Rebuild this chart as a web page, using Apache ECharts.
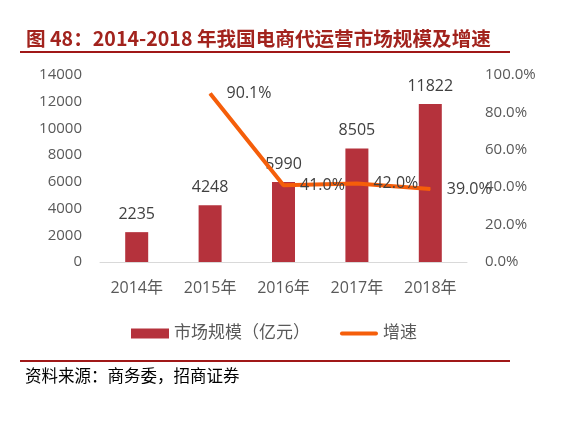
<!DOCTYPE html>
<html><head><meta charset="utf-8">
<script src="https://cdn.jsdelivr.net/npm/echarts@6/dist/echarts.min.js"></script>
<style>html,body{margin:0;padding:0;background:#fff}#c{width:571px;height:421px}</style>
</head><body><div id="c"></div>
<script>
const categories = ['2014年','2015年','2016年','2017年','2018年'];
const marketSize = [2235, 4248, 5990, 8505, 11822];
const growth = [null, 0.901, 0.410, 0.420, 0.390];
const leftTicks = {min: 0, max: 14000, interval: 2000};
const rightTicks = {min: 0, max: 1, interval: 0.2};

const chart = echarts.init(document.getElementById('c'), null, {renderer: 'canvas'});
const font = '"Open Sans","Noto Sans CJK SC",sans-serif';
chart.setOption({
  animation: false,
  title: [
    {text: '图 48：2014-2018 年我国电商代运营市场规模及增速', left: 21, top: 24,
     textStyle: {color: '#A2231D', fontSize: 19.6, fontWeight: 'bold', fontFamily: '"Noto Sans CJK SC",sans-serif'}},
    {text: '资料来源：商务委，招商证券', left: 20, top: 362,
     textStyle: {color: '#000', fontSize: 16.5, fontWeight: 'normal', fontFamily: '"Noto Sans CJK SC",sans-serif'}}
  ],
  graphic: [
    {type: 'rect', shape: {x: 20, y: 51, width: 490, height: 2}, style: {fill: '#A01818'}},
    {type: 'rect', shape: {x: 20, y: 360, width: 490, height: 2}, style: {fill: '#A01818'}}
  ],
  legend: {
    top: 320, left: 126, itemGap: 30, itemWidth: 38, itemHeight: 10,
    textStyle: {color: '#595959', fontSize: 17, fontFamily: font},
    data: [{name: '市场规模（亿元）', icon: 'rect'}, {name: '增速', icon: 'path://M2,3 L38,3 A2,2 0 0 1 38,7 L2,7 A2,2 0 0 1 2,3 Z'}]
  },
  grid: {left: 100, right: 104, top: 75, bottom: 159},
  xAxis: {
    type: 'category', data: categories,
    axisLine: {lineStyle: {color: '#D9D9D9', width: 1}},
    axisTick: {show: false},
    axisLabel: {color: '#595959', fontSize: 16, fontFamily: font, margin: 18}
  },
  yAxis: [
    {type: 'value', min: leftTicks.min, max: leftTicks.max, interval: leftTicks.interval,
     splitLine: {show: false}, axisLine: {show: false}, axisTick: {show: false},
     axisLabel: {color: '#595959', fontSize: 15, fontFamily: font, margin: 18, formatter: v => String(v)}},
    {type: 'value', min: rightTicks.min, max: rightTicks.max, interval: rightTicks.interval,
     splitLine: {show: false}, axisLine: {show: false}, axisTick: {show: false},
     axisLabel: {color: '#595959', fontSize: 15, fontFamily: font, margin: 18,
       formatter: v => (v * 100).toFixed(1) + '%'}}
  ],
  series: [
    {name: '市场规模（亿元）', type: 'bar', data: marketSize, barWidth: 23,
     itemStyle: {color: '#B5323C'},
     label: {show: true, position: 'top', distance: 10, color: '#404040', fontSize: 16, fontFamily: font}},
    {name: '增速', type: 'line', yAxisIndex: 1, data: growth,
     lineStyle: {color: '#F55E0A', width: 4}, itemStyle: {color: '#F55E0A'},
     symbol: 'circle', symbolSize: 1, connectNulls: false,
     label: {show: true, position: 'right', distance: 16, color: '#404040', fontSize: 16, fontFamily: font,
       formatter: p => (p.value * 100).toFixed(1) + '%'}}
  ]
});
</script></body></html>
